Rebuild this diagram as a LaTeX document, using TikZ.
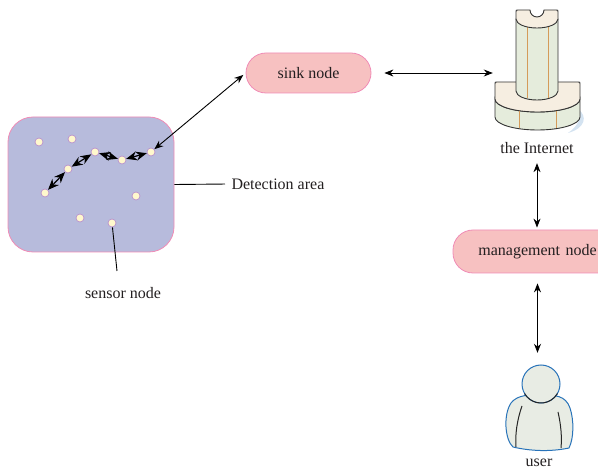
\documentclass[tikz,border=0pt]{standalone}
\usepackage{fontspec}
\setmainfont{Liberation Serif}
\usetikzlibrary{positioning}
\usetikzlibrary{arrows.meta}
\definecolor{areafill}{RGB}{183,187,220}
\definecolor{pinkline}{RGB}{240,140,182}
\definecolor{pillfill}{RGB}{247,193,193}
\definecolor{dotfill}{RGB}{255,248,205}
\definecolor{dotline}{RGB}{185,145,205}
\definecolor{towerfill}{RGB}{229,236,220}
\definecolor{towertop}{RGB}{246,238,225}
\definecolor{stripe}{RGB}{212,155,90}
\definecolor{userfill}{RGB}{232,236,228}
\definecolor{userline}{RGB}{40,115,185}
\definecolor{txt}{RGB}{35,31,32}
\tikzstyle{arrow} = [line width=0.9pt, {Stealth[length=9pt,width=7pt]}-{Stealth[length=9pt,width=7pt]}]
\tikzstyle{hop} = [line width=1.2pt, {Stealth[length=11pt,width=9pt]}-{Stealth[length=11pt,width=9pt]}]
\tikzstyle{sensor} = [draw=dotline, circle, fill=dotfill, minimum size=8pt, inner sep=0pt, line width=0.7pt]
\tikzstyle{pill} = [draw=pinkline, fill=pillfill, rounded corners=20pt, line width=0.8pt, font=\fontsize{16}{19}\selectfont, text=txt]
\tikzstyle{lbl} = [font=\fontsize{16}{19}\selectfont, text=txt]
\tikzstyle{icon} = [draw=black!80, line width=0.9pt]

\begin{document}
\begin{tikzpicture}[x=1pt,y=1pt]
    \useasboundingbox (0,0) rectangle (598,-470);

    % Detection area with its sensors
    \node[draw=pinkline, fill=areafill, rounded corners=25pt, line width=0.8pt, minimum width=166pt, minimum height=135pt] (area) at (91,-184.5) {};
    \node[sensor] (d1) at (45,-193) {};
    \node[sensor] (d2) at (68,-169) {};
    \node[sensor] (d3) at (95,-152) {};
    \node[sensor] (d4) at (122,-160) {};
    \node[sensor] (d5) at (151,-152) {};
    \node[sensor] (d6) at (39,-142) {};
    \node[sensor] (d7) at (72,-139) {};
    \node[sensor] (d8) at (136,-196) {};
    \node[sensor] (d9) at (80,-218) {};
    \node[sensor] (d10) at (112,-223) {};
    \draw[hop] (d1) -- (d2);
    \draw[hop] (d2) -- (d3);
    \draw[hop] (d3) -- (d4);
    \draw[hop] (d4) -- (d5);

    % Labels of the area
    \node[lbl, anchor=west] (dlbl) at (228,-184) {Detection area};
    \draw[line width=0.9pt, shorten >=3pt] (area.east) -- (dlbl.west);
    \node[lbl] (slbl) at (123,-293) {sensor node};
    \coordinate (send) at (117,-271);
    \draw[line width=0.9pt] (d10) -- (send);

    % Sink and management nodes
    \node[pill, minimum width=125pt, minimum height=40pt] (sink) at (308.5,-73) {sink node};
    \node[pill, minimum width=169pt, minimum height=43pt, text width=150pt, align=center] (mgmt) at (537.5,-251.5) {management node};

    % The Internet (tower on a round base)
    \node[minimum width=90pt, minimum height=125pt] (inet) at (538,-68) {};
    \fill[userline!20] (579,-110) .. controls (587,-116) and (586,-128) .. (568,-133) .. controls (578,-126) and (581,-119) .. cycle;
    \filldraw[icon, fill=towerfill] (495,-99) arc (180:360:42.5 and 13) -- (580,-117) arc (0:-180:42.5 and 13) -- cycle;
    \filldraw[icon, fill=towertop] (495,-99) -- (495,-84) .. controls (495,-82) .. (497,-82) -- (578,-82) .. controls (580,-82) .. (580,-84) -- (580,-99) arc (0:-180:42.5 and 13) -- cycle;
    \draw[stripe, line width=1pt] (519,-111) -- (519,-128);
    \draw[stripe, line width=1pt] (556,-111) -- (556,-128);
    \filldraw[icon, fill=towerfill] (516,-19) -- (516,-91) arc (180:360:21 and 9) -- (558,-19) -- cycle;
    \draw[stripe, line width=1pt] (527,-27) -- (527,-98);
    \draw[stripe, line width=1pt] (548,-27) -- (548,-98);
    \filldraw[icon, fill=towertop] (516,-19) -- (516,-12) .. controls (516,-10) .. (518,-10) -- (530,-10) arc (180:360:7) -- (556,-10) .. controls (558,-10) .. (558,-12) -- (558,-19) arc (0:-180:21 and 9) -- cycle;
    \node[lbl] (ilbl) at (537,-148) {the Internet};

    % User
    \node[minimum width=66pt, minimum height=86pt] (user) at (540,-407) {};
    \filldraw[fill=userfill, draw=userline, line width=1pt] (513,-447) .. controls (505,-440) and (503,-415) .. (511,-403) .. controls (517,-395) and (530,-394) .. (541,-396) .. controls (555,-394) and (566,-396) .. (570,-408) .. controls (574,-420) and (574,-438) .. (569,-448) .. controls (550,-452) and (530,-451) .. cycle;
    \filldraw[fill=userfill, draw=userline, line width=1pt] (541,-384) circle (19);
    \draw[black!85, line width=1pt] (541,-384) ++(-150:19) arc (-150:-30:19);
    \draw[black!85, line width=1pt] (522,-406) .. controls (517,-420) and (515,-435) .. (516,-447);
    \draw[black!85, line width=1pt] (558,-412) .. controls (561,-425) and (562,-437) .. (561,-448);
    \node[lbl] (ulbl) at (539,-463) {user};

    % Links
    \draw[arrow, shorten >=3pt] (d5) -- (sink.west);
    \draw[arrow, shorten <=13pt] (sink.east) -- (inet.west |- sink.east);
    \draw[arrow, shorten <=6pt, shorten >=2pt] (ilbl.south) -- (ilbl.south |- mgmt.north);
    \draw[arrow, shorten <=10pt, shorten >=11pt] (mgmt.south) -- (mgmt.south |- user.north);
\end{tikzpicture}
\end{document}
